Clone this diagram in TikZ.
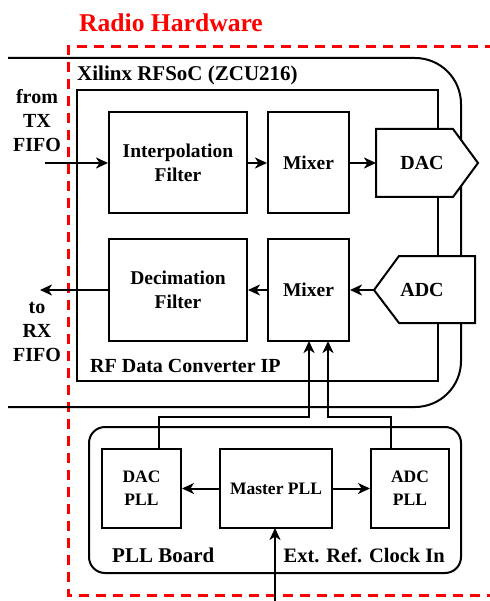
\documentclass[tikz,border=0pt]{standalone}
\usepackage{fontspec}
\setmainfont{Liberation Serif}
\usetikzlibrary{arrows.meta}
\tikzset{
  ln/.style={line width=2pt, draw=black},
  arr/.style={ln, -{Stealth[length=12pt,width=11pt,inset=3.5pt]}},
  blk/.style={ln, fill=white, inner sep=0pt, align=center, font=\bfseries\fontsize{19.5}{24}\selectfont},
  pll/.style={ln, fill=white, inner sep=0pt, align=center, font=\bfseries\fontsize{17.5}{23}\selectfont},
  lbl/.style={inner sep=0pt, align=center, font=\bfseries\fontsize{20}{24}\selectfont},
  conv/.style={ln, fill=white, line join=miter},
}
\begin{document}
\begin{tikzpicture}[x=1pt,y=-1pt]
\useasboundingbox (0,0) rectangle (489,601);
% red dashed region
\draw[red, line width=3pt, dash pattern=on 10pt off 7pt] (495,47) -- (68,47) -- (68,595) -- (495,595);
\node[lbl, text=red, font=\bfseries\fontsize{25.6}{30}\selectfont] (title) at (171,23) {Radio Hardware};
% RFSoC open shape
\draw[ln, rounded corners=46pt] (8,58) -- (461,58) -- (461,407) -- (8,407);
\node[lbl, anchor=west, font=\bfseries\fontsize{21}{24}\selectfont] (xil) at (77,75) {Xilinx RFSoC (ZCU216)};
% RF data converter IP
\draw[ln] (77,90) rectangle (438,381);
\node[lbl, anchor=west] (rfdc) at (90,366) {RF Data Converter IP};
% blocks
\node[blk, minimum width=138pt, minimum height=101pt] (interp) at (178,162.5) {Interpolation\\Filter};
\node[blk, minimum width=81pt, minimum height=101pt] (mixt) at (308.5,162.5) {Mixer};
\node[blk, minimum width=138pt, minimum height=101pt] (decim) at (178,290) {Decimation\\Filter};
\node[blk, minimum width=81pt, minimum height=101pt] (mixb) at (308.5,290) {Mixer};
% DAC / ADC
\draw[conv] (376,129) -- (453,129) -- (478,163) -- (453,197) -- (376,197) -- cycle;
\node[lbl] (dac) at (422,163) {DAC};
\coordinate (dacw) at (376,163);
\draw[conv] (399,256) -- (475,256) -- (475,323) -- (399,323) -- (374,290) -- cycle;
\node[lbl] (adc) at (422,290) {ADC};
\coordinate (adcw) at (374,290);
% FIFO labels
\node[lbl] (tx) at (37,121) {from\\TX\\FIFO};
\node[lbl] (rx) at (37,332) {to\\RX\\FIFO};
\coordinate (txin) at (45,163);
\coordinate (rxout) at (40,290);
% data path
\draw[arr] (txin) -- (interp.west |- txin);
\draw[arr] (interp.east |- txin) -- (mixt.west |- txin);
\draw[arr] (mixt.east |- dacw) -- (dacw);
\draw[arr] (adcw) -- (mixb.east |- adcw);
\draw[arr] (mixb.west) -- (decim.east);
\draw[arr] (decim.west) -- (rxout);
% PLL board
\draw[ln, rounded corners=16pt] (89,427) rectangle (461,573);
\node[lbl, anchor=west, font=\bfseries\fontsize{21}{24}\selectfont] (pllb) at (112,555) {PLL Board};
\node[lbl, anchor=east, font=\bfseries\fontsize{20.5}{24}\selectfont] (ext) at (445,555) {Ext. Ref. Clock In};
\node[pll, minimum width=79pt, minimum height=79pt] (dacpll) at (141.5,488.5) {DAC\\PLL};
\node[pll, minimum width=112pt, minimum height=79pt] (master) at (276,488.5) {Master PLL};
\node[pll, minimum width=78pt, minimum height=79pt] (adcpll) at (410,488.5) {ADC\\PLL};
\draw[arr] (master.west) -- (dacpll.east);
\draw[arr] (master.east) -- (adcpll.west);
\coordinate (extin) at (275,605);
\draw[arr] (extin) -- (275,528);
% clock lines
\coordinate (c1) at (159,417);
\coordinate (c2) at (391,417);
\draw[arr, line join=miter] (dacpll.north -| c1) -- (c1) -- (309,417) -- (309,341);
\draw[arr, line join=miter] (adcpll.north -| c2) -- (c2) -- (328,417) -- (328,341);
\end{tikzpicture}
\end{document}
